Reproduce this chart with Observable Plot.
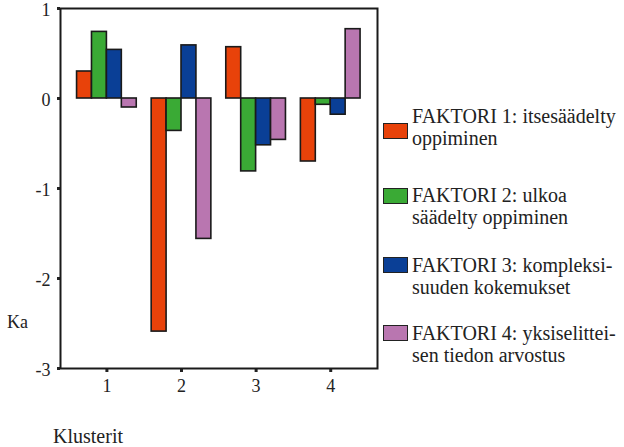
<!DOCTYPE html>
<html>
<head>
<meta charset="utf-8">
<script src="https://cdn.jsdelivr.net/npm/d3@7"></script>
<script src="https://cdn.jsdelivr.net/npm/@observablehq/plot@0.6"></script>
<style>
  html, body { margin: 0; padding: 0; background: #fff; }
  #wrap { position: relative; width: 624px; height: 447px; font-family: "Liberation Serif", "DejaVu Serif", serif; color: #222; }
  #wrap svg { position: absolute; left: 0; top: 0; }
  .lbl { position: absolute; white-space: nowrap; line-height: 22px; font-family: "Liberation Serif", "DejaVu Serif", serif; }
  .sw { position: absolute; width: 23px; height: 14px; border: 1.5px solid #222; }
</style>
</head>
<body>
<div id="wrap"></div>
<script>
// ---- data ----
const clusters = [1, 2, 3, 4];
const factors = ["FAKTORI 1", "FAKTORI 2", "FAKTORI 3", "FAKTORI 4"];
const factor1 = [0.30, -2.59, 0.57, -0.70];
const factor2 = [0.74, -0.36, -0.81, -0.07];
const factor3 = [0.54, 0.59, -0.52, -0.18];
const factor4 = [-0.10, -1.56, -0.46, 0.77];
const colors = ["#E8420A", "#3AAA35", "#0A3F96", "#B976B0"];
const yTicks = [1, 0, -1, -2, -3];
const xTicks = [1, 2, 3, 4];
const legendLines = [
  ["FAKTORI 1: itsesäädelty", "oppiminen"],
  ["FAKTORI 2: ulkoa", "säädelty oppiminen"],
  ["FAKTORI 3: kompleksi-", "suuden kokemukset"],
  ["FAKTORI 4: yksiselittei-", "sen tiedon arvostus"]
];
const yLabel = "Ka";
const xLabel = "Klusterit";

const FONT = "'Liberation Serif', 'DejaVu Serif', serif";

// grouped bars: each cluster occupies 0.8 of a unit, each factor 0.2
const series = [factor1, factor2, factor3, factor4];
const groupWidth = 0.8;
const barW = groupWidth / factors.length;
const data = [];
clusters.forEach((c, i) => factors.forEach((f, j) => data.push({
  cluster: c, factor: f, value: series[j][i],
  x1: c - groupWidth / 2 + j * barW,
  x2: c - groupWidth / 2 + (j + 1) * barW
})));

const chart = Plot.plot({
  width: 624,
  height: 447,
  marginLeft: 60,
  marginRight: 247,
  marginTop: 8,
  marginBottom: 79,
  style: {fontFamily: FONT, fontSize: "18px", color: "#222", background: "transparent", overflow: "visible"},
  x: {domain: [0.378, 4.627]},
  y: {domain: [-3, 1]},
  color: {domain: factors, range: colors},
  marks: [
    Plot.rect(data, {x1: "x1", x2: "x2", y1: 0, y2: "value", fill: "factor", stroke: "#1a1a1a", strokeWidth: 1.6}),
    // tick squares
    Plot.axisY({ticks: yTicks, tickFormat: () => "", tickSize: 3, strokeWidth: 3, label: null}),
    // tick labels
    Plot.axisY({ticks: yTicks, tickFormat: d => String(d), tickSize: 0, tickPadding: 10, label: null, fontSize: 18, dy: 2}),
    Plot.axisX({ticks: xTicks, tickFormat: d => String(d), tickSize: 4, strokeWidth: 3, tickPadding: 7, label: null, fontSize: 18}),
    Plot.frame({stroke: "#1a1a1a", strokeWidth: 2})
  ]
});

const wrap = document.getElementById("wrap");
wrap.appendChild(chart);

// legend (HTML)
const itemTops = [105, 184, 254, 322];
const swatchTops = [123, 188, 257, 325];
legendLines.forEach((lines, i) => {
  const sw = document.createElement("div");
  sw.className = "sw";
  sw.style.left = "383px";
  sw.style.top = swatchTops[i] + "px";
  sw.style.background = colors[i];
  wrap.appendChild(sw);
  const t = document.createElement("div");
  t.className = "lbl";
  t.style.left = "412px";
  t.style.top = itemTops[i] + "px";
  t.style.fontSize = "20px";
  t.innerHTML = lines.join("<br>");
  wrap.appendChild(t);
});
const ka = document.createElement("div");
ka.className = "lbl";
ka.style.left = "7px"; ka.style.top = "311px"; ka.style.fontSize = "18px";
ka.textContent = yLabel;
wrap.appendChild(ka);
const kl = document.createElement("div");
kl.className = "lbl";
kl.style.left = "53px"; kl.style.top = "425px"; kl.style.fontSize = "20px";
kl.textContent = xLabel;
wrap.appendChild(kl);
</script>
</body>
</html>
